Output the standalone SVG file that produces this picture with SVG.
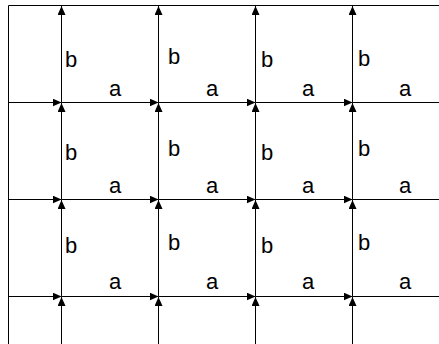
<svg xmlns="http://www.w3.org/2000/svg" width="439" height="344" viewBox="0 0 439 344">
<defs>
<marker id="ah" markerUnits="userSpaceOnUse" markerWidth="9" markerHeight="8" refX="9" refY="4" orient="auto">
<path d="M0,0 L9,4 L0,8 Z" fill="#000"/>
</marker>
<style>
.ln{stroke:#000;stroke-width:1;fill:none}
.ar{stroke:#000;stroke-width:1;fill:none;marker-end:url(#ah)}
.t{font-family:"Liberation Sans",Arial,sans-serif;font-size:22px;fill:#000}
</style>
</defs>
<rect width="439" height="344" fill="#fff"/>
<g id="border">
<path class="ln" d="M8.5,344 V5.5 H439"/>
</g>
<g id="connectors">
<path class="ar" d="M8.5,102.5 H61.5"/>
<path class="ar" d="M61.5,102.5 H158.5"/>
<path class="ar" d="M158.5,102.5 H255.5"/>
<path class="ar" d="M255.5,102.5 H352.5"/>
<path class="ln" d="M352.5,102.5 H439"/>
<path class="ar" d="M8.5,199.5 H61.5"/>
<path class="ar" d="M61.5,199.5 H158.5"/>
<path class="ar" d="M158.5,199.5 H255.5"/>
<path class="ar" d="M255.5,199.5 H352.5"/>
<path class="ln" d="M352.5,199.5 H439"/>
<path class="ar" d="M8.5,296.5 H61.5"/>
<path class="ar" d="M61.5,296.5 H158.5"/>
<path class="ar" d="M158.5,296.5 H255.5"/>
<path class="ar" d="M255.5,296.5 H352.5"/>
<path class="ln" d="M352.5,296.5 H439"/>
<path class="ar" d="M61.5,344 V297"/>
<path class="ar" d="M61.5,296.5 V200"/>
<path class="ar" d="M61.5,199.5 V103"/>
<path class="ar" d="M61.5,102.5 V6"/>
<path class="ar" d="M158.5,344 V297"/>
<path class="ar" d="M158.5,296.5 V200"/>
<path class="ar" d="M158.5,199.5 V103"/>
<path class="ar" d="M158.5,102.5 V6"/>
<path class="ar" d="M255.5,344 V297"/>
<path class="ar" d="M255.5,296.5 V200"/>
<path class="ar" d="M255.5,199.5 V103"/>
<path class="ar" d="M255.5,102.5 V6"/>
<path class="ar" d="M352.5,344 V297"/>
<path class="ar" d="M352.5,296.5 V200"/>
<path class="ar" d="M352.5,199.5 V103"/>
<path class="ar" d="M352.5,102.5 V6"/>
</g>
<g id="labels">
<text class="t" x="65" y="67">b</text>
<text class="t" x="168" y="64">b</text>
<text class="t" x="261" y="67">b</text>
<text class="t" x="358" y="66">b</text>
<text class="t" x="65" y="160">b</text>
<text class="t" x="168" y="156">b</text>
<text class="t" x="261" y="160">b</text>
<text class="t" x="358" y="156">b</text>
<text class="t" x="65" y="253">b</text>
<text class="t" x="168" y="250">b</text>
<text class="t" x="261" y="253">b</text>
<text class="t" x="358" y="250">b</text>
<text class="t" x="109" y="96">a</text>
<text class="t" x="206" y="96">a</text>
<text class="t" x="302" y="96">a</text>
<text class="t" x="399" y="96">a</text>
<text class="t" x="109" y="193">a</text>
<text class="t" x="206" y="193">a</text>
<text class="t" x="302" y="193">a</text>
<text class="t" x="399" y="193">a</text>
<text class="t" x="109" y="289">a</text>
<text class="t" x="206" y="289">a</text>
<text class="t" x="302" y="289">a</text>
<text class="t" x="399" y="289">a</text>
</g>
</svg>
